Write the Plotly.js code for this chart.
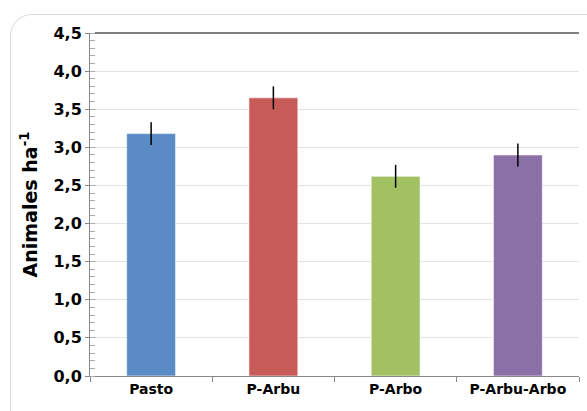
<!DOCTYPE html>
<html>
<head>
<meta charset="utf-8">
<script src="https://cdn.plot.ly/plotly-3.0.1.min.js"></script>
<style>
body { margin: 0; background: #fff; }
#frame { position: absolute; left: 10px; top: 14px; width: 600px; height: 420px; border: 1px solid #d9d9d9; border-radius: 22px; }
#chart { position: absolute; left: 0; top: 0; width: 587px; height: 411px; }
</style>
</head>
<body>
<div id="frame"></div>
<div id="chart"></div>
<script>
var categories = ['Pasto', 'P-Arbu', 'P-Arbo', 'P-Arbu-Arbo'];
var values = [3.18, 3.65, 2.62, 2.90];
var errors = [0.15, 0.15, 0.15, 0.15];
var colors = ['#5b8bc5', '#c75b57', '#a2c163', '#8b70a8'];
var yTicks = [0, 0.5, 1, 1.5, 2, 2.5, 3, 3.5, 4, 4.5];

var bold = 'DejaVu Sans, Liberation Sans, Arial';

var data = [{
    type: 'bar',
    x: categories,
    y: values,
    width: 0.4,
    marker: { color: colors, line: { color: 'rgba(255,255,255,0.6)', width: 1 } },
    error_y: { type: 'data', array: errors, visible: true, color: '#000', thickness: 1.5, width: 0 },
    hoverinfo: 'none'
}];

var layout = {
    width: 587, height: 411,
    margin: { l: 90, r: 8, t: 33, b: 35 },
    paper_bgcolor: 'rgba(0,0,0,0)',
    plot_bgcolor: 'rgba(0,0,0,0)',
    showlegend: false,
    font: { family: bold, color: '#000' },
    xaxis: {
        tickfont: { size: 14, family: bold, weight: 'bold' },
        showline: true, linecolor: '#888', linewidth: 1,
        ticks: 'outside', ticklen: 5, tickcolor: '#888', tickson: 'boundaries',
        range: [-0.5, 3.5], fixedrange: true
    },
    yaxis: {
        range: [0, 4.5],
        tickvals: yTicks,
        ticktext: yTicks.map(function(v) { return v.toFixed(1).replace('.', ','); }),
        tickfont: { size: 16, family: bold, weight: 'bold' },
        showgrid: true, gridcolor: '#e3e3e3', gridwidth: 1,
        showline: true, linecolor: '#888', linewidth: 1,
        ticks: 'outside', ticklen: 4, tickcolor: '#888',
        minor: { dtick: 0.1, ticks: 'inside', ticklen: 5, tickcolor: '#aaa', showgrid: false },
        zeroline: false,
        title: { text: 'Animales ha<sup>-1</sup>', font: { size: 19, family: bold, weight: 'bold' }, standoff: 10 }
    },
    shapes: [{
        type: 'line', xref: 'paper', yref: 'paper', x0: 0.01, x1: 1, y0: 1, y1: 1,
        line: { color: '#555', width: 1.5 }
    }]
};

Plotly.newPlot('chart', data, layout, { displayModeBar: false, staticPlot: true });
</script>
</body>
</html>
